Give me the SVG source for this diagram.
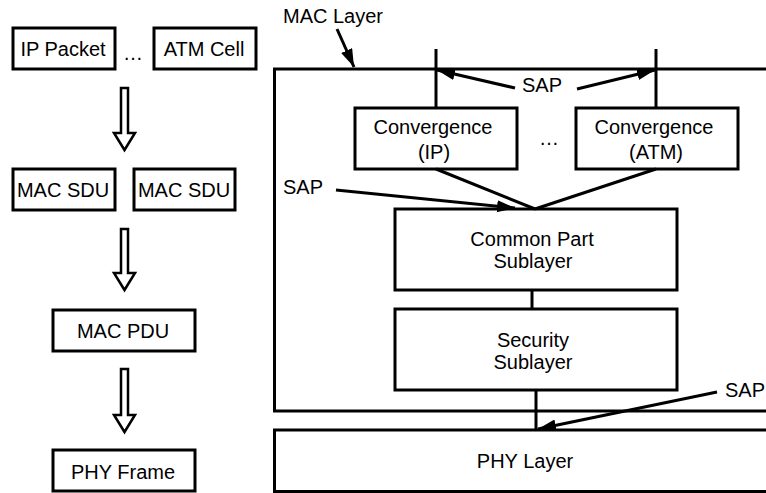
<svg xmlns="http://www.w3.org/2000/svg" width="766" height="493" viewBox="0 0 766 493">
  <defs>
    <style>
      .box { fill: #fff; stroke: #000; stroke-width: 3; }
      .ln { fill: none; stroke: #000; stroke-width: 3; }
      .arr { fill: none; stroke: #000; stroke-width: 3; marker-end: url(#head); }
      .blk { fill: #fff; stroke: #000; stroke-width: 2.5; stroke-linejoin: miter; }
      text { font-family: "Liberation Sans", Arial, sans-serif; font-size: 20px; fill: #000; text-anchor: middle; }
      .l { text-anchor: start; }
    </style>
    <marker id="head" markerUnits="userSpaceOnUse" markerWidth="20" markerHeight="14" refX="18" refY="6" orient="auto">
      <path d="M0,0 L18,6 L0,12 Z" fill="#000"/>
    </marker>
  </defs>

  <rect width="766" height="493" fill="#fff"/>

  <!-- left column: data units -->
  <g id="ip-packet"><rect class="box" x="13" y="28" width="102" height="41"/><text x="63" y="56">IP Packet</text></g>
  <g id="dots-top"><text x="133" y="60">…</text></g>
  <g id="atm-cell"><rect class="box" x="154" y="28" width="102" height="41"/><text x="204" y="56">ATM Cell</text></g>

  <g id="mac-sdu-1"><rect class="box" x="13" y="169" width="102" height="41"/><text x="63" y="197">MAC SDU</text></g>
  <g id="mac-sdu-2"><rect class="box" x="134" y="169" width="101" height="41"/><text x="184" y="197">MAC SDU</text></g>

  <g id="mac-pdu"><rect class="box" x="53" y="310" width="142" height="41"/><text x="123" y="338">MAC PDU</text></g>
  <g id="phy-frame"><rect class="box" x="53" y="450" width="142" height="41"/><text x="123" y="479">PHY Frame</text></g>

  <!-- hollow block arrows -->
  <g id="block-arrows">
    <path class="blk" d="M121,88 H128 V133 H135 L124.5,150 L114,133 H121 Z"/>
    <path class="blk" d="M121,229 H128 V273 H135 L124.5,290 L114,273 H121 Z"/>
    <path class="blk" d="M121,369 H128 V415 H135 L124.5,432 L114,415 H121 Z"/>
  </g>

  <!-- right side: protocol stack -->
  <g id="mac-layer">
    <path class="ln" d="M770,69 H274.5 V411 H770"/>
    <text class="l" x="283" y="23">MAC Layer</text>
  </g>

  <g id="phy-layer">
    <path class="ln" d="M770,430 H274.5 V491.5 H770"/>
    <text x="525" y="468">PHY Layer</text>
  </g>

  <g id="conv-ip"><rect class="box" x="355" y="108" width="162" height="61"/><text x="433" y="134">Convergence</text><text x="434" y="159">(IP)</text></g>
  <g id="dots-mid"><text x="549" y="145">…</text></g>
  <g id="conv-atm"><rect class="box" x="576" y="108" width="162" height="61"/><text x="654" y="134">Convergence</text><text x="656" y="159">(ATM)</text></g>

  <g id="common-part"><rect class="box" x="395" y="209" width="282" height="81"/><text x="532" y="246">Common Part</text><text x="533" y="268">Sublayer</text></g>
  <g id="security"><rect class="box" x="395" y="309" width="282" height="81"/><text x="533" y="347">Security</text><text x="533" y="369">Sublayer</text></g>

  <g id="sap-labels">
    <text x="542" y="92">SAP</text>
    <text class="l" x="283" y="194">SAP</text>
    <text class="l" x="725" y="397">SAP</text>
  </g>

  <g id="connectors">
    <line class="ln" x1="436" y1="49" x2="436" y2="108"/>
    <line class="ln" x1="656" y1="49" x2="656" y2="108"/>
    <line class="ln" x1="436" y1="169" x2="535" y2="209"/>
    <line class="ln" x1="656" y1="169" x2="535" y2="209"/>
    <line class="ln" x1="532" y1="290" x2="532" y2="309"/>
    <line class="ln" x1="536" y1="390" x2="536" y2="430"/>
    <line class="arr" x1="337" y1="29" x2="354" y2="67"/>
    <line class="arr" x1="515" y1="88" x2="437" y2="70"/>
    <line class="arr" x1="577" y1="89" x2="655" y2="70"/>
    <line class="arr" x1="336" y1="190" x2="515" y2="208"/>
    <line class="arr" x1="717" y1="392" x2="538" y2="429"/>
  </g>
</svg>
